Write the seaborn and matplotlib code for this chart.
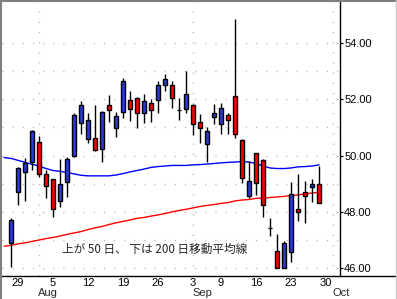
import numpy as np
import pandas as pd
import matplotlib
matplotlib.use('Agg')
import matplotlib.pyplot as plt
import seaborn as sns
from matplotlib.lines import Line2D
from matplotlib.transforms import blended_transform_factory

# trading days, 2013-07-25 .. 2013-10-01 (Labor Day closed)
days = pd.bdate_range('2013-07-25', '2013-10-01')
days = days[days != pd.Timestamp('2013-09-02')]

# daily candles from 2013-07-26 to 2013-09-27
opens = [46.88, 48.70, 49.41, 49.76, 50.49, 49.34, 49.16, 48.39, 49.05, 49.99,
         51.16, 50.60, 50.61, 50.22, 51.79, 50.99, 51.54, 51.96, 52.04, 51.50,
         51.86, 51.96, 52.50, 52.50, 51.63, 51.64, 51.79, 51.18, 50.40, 51.36,
         51.11, 51.43, 52.11, 50.55, 48.58, 50.08, 49.84, 47.44, 46.61, 46.02,
         46.59, 48.09, 48.69, 48.90, 48.99]
highs = [47.78, 49.58, 49.90, 50.91, 50.71, 49.49, 49.18, 49.87, 49.96, 51.50,
         51.93, 51.52, 51.80, 51.58, 52.16, 51.56, 52.75, 52.29, 52.09, 52.19,
         52.00, 52.65, 52.90, 52.66, 52.04, 53.01, 51.82, 51.48, 51.01, 51.82,
         51.86, 51.50, 54.85, 50.59, 49.81, 50.10, 49.88, 47.77, 47.21, 46.97,
         49.05, 49.34, 49.10, 49.17, 49.63]
lows = [46.04, 48.26, 48.40, 49.49, 49.25, 48.48, 47.81, 48.18, 48.54, 49.96,
        50.77, 50.44, 50.17, 49.78, 51.20, 50.67, 51.35, 51.24, 50.99, 51.17,
        51.20, 51.50, 52.31, 51.68, 51.26, 51.50, 50.73, 50.44, 49.78, 51.11,
        50.76, 50.76, 50.61, 49.04, 48.48, 48.59, 47.80, 47.15, 45.99, 46.00,
        46.20, 47.68, 47.62, 48.36, 48.30]
closes = [47.71, 49.55, 49.73, 50.87, 49.35, 48.91, 48.09, 48.98, 49.87, 51.44,
          51.79, 51.25, 50.20, 51.55, 51.63, 51.41, 52.65, 51.64, 51.50, 51.93,
          51.63, 52.50, 52.71, 52.04, 51.63, 52.18, 51.11, 50.97, 50.86, 51.50,
          51.68, 51.25, 50.78, 49.21, 49.09, 49.04, 48.25, 47.44, 46.02, 46.88,
          48.63, 47.99, 48.55, 48.99, 48.33]

# moving averages from 2013-07-25 to 2013-09-27
ma50 = [49.93, 49.90, 49.83, 49.76, 49.69, 49.63, 49.54, 49.47, 49.44, 49.40,
        49.35, 49.30, 49.28, 49.28, 49.28, 49.28, 49.31, 49.36, 49.42, 49.47,
        49.52, 49.58, 49.61, 49.63, 49.65, 49.65, 49.65, 49.67, 49.68, 49.70,
        49.72, 49.74, 49.76, 49.77, 49.79, 49.77, 49.72, 49.63, 49.56, 49.54,
        49.54, 49.56, 49.60, 49.61, 49.63, 49.67]
ma200 = [46.78, 46.81, 46.86, 46.90, 46.95, 47.00, 47.05, 47.09, 47.14, 47.20,
         47.25, 47.30, 47.37, 47.43, 47.48, 47.55, 47.61, 47.66, 47.71, 47.77,
         47.80, 47.85, 47.89, 47.94, 48.00, 48.05, 48.09, 48.14, 48.19, 48.23,
         48.26, 48.30, 48.33, 48.39, 48.42, 48.44, 48.48, 48.49, 48.51, 48.53,
         48.55, 48.58, 48.60, 48.64, 48.67, 48.70]

tick_days = ['2013-07-29', '2013-08-05', '2013-08-12', '2013-08-19', '2013-08-26',
             '2013-09-03', '2013-09-09', '2013-09-16', '2013-09-23', '2013-09-30']
month_days = ['2013-08-01', '2013-09-03', '2013-10-01']
month_names = ['Aug', 'Sep', 'Oct']
note = '上が 50 日、 下は 200 日移動平均線'

pos = {d: i - 1 for i, d in enumerate(days)}   # x = 0 on the first candle

sns.set_style('white')
plt.rcParams['font.family'] = ['Liberation Sans', 'DejaVu Sans']

W, H = 397, 299
fig = plt.figure(figsize=(W / 100, H / 100), dpi=100)
ax = fig.add_axes([2 / W, 23 / H, 338 / W, 274 / H])

# grid
dot = dict(color='#b4b4b4', lw=1, dashes=(0.8, 6.5))
for y in range(46, 55):
    ax.axhline(y, zorder=0, **dot)
for d in month_days:
    ax.axvline(pos[pd.Timestamp(d)], zorder=0, **dot)

# moving averages
ma = pd.DataFrame({'x': [pos[d] for d in days[:len(ma50)]], 'ma50': ma50, 'ma200': ma200})
sns.lineplot(data=ma, x='x', y='ma50', ax=ax, color='#0000ff', lw=1, zorder=1)
sns.lineplot(data=ma, x='x', y='ma200', ax=ax, color='#ff0000', lw=1, zorder=1)

# candles
o = np.array(opens)
c = np.array(closes)
x = np.arange(len(o))
cols = np.where(c > o, '#2b3bd1', np.where(c < o, '#ff0000', 'black'))
ax.vlines(x, lows, highs, color='black', lw=1, zorder=2)
ax.bar(x, np.abs(c - o), bottom=np.minimum(o, c), width=0.7, color=cols,
       edgecolor='black', linewidth=1, zorder=3)

ax.text(7.29, 46.65, note, family=['Noto Sans CJK JP', 'DejaVu Sans'],
        fontsize=8.4, va='center', ha='left')

ax.set_xlim(-1.29, 47.0)
ax.set_ylim(45.72, 55.46)
ax.set_xlabel('')
ax.set_ylabel('')

ax.yaxis.tick_right()
ax.set_yticks([46, 48, 50, 52, 54], [f'{v:.2f}' for v in [46, 48, 50, 52, 54]])
ax.tick_params(axis='y', length=2, pad=1, labelsize=8, colors='black', direction='out')
ax.set_xticks([pos[pd.Timestamp(d)] for d in tick_days],
              [str(pd.Timestamp(d).day) for d in tick_days])
ax.tick_params(axis='x', length=0, pad=1.5, labelsize=8, colors='black')

tr = blended_transform_factory(ax.transData, ax.transAxes)
for d, name in zip(month_days, month_names):
    ax.text(pos[pd.Timestamp(d)] - 0.1, -16.5 / 274, name, transform=tr, fontsize=8,
            ha='left', va='center', clip_on=False)

for s in ['left', 'top', 'bottom']:
    ax.spines[s].set_visible(False)
ax.spines['right'].set_color('black')
ax.spines['right'].set_linewidth(1)

# bottom axis line spans the whole picture, plus a sunken frame
fig.add_artist(Line2D([0, 1], [23 / H, 23 / H], color='black', lw=1))
fig.add_artist(Line2D([0, 1], [1 - 1 / H, 1 - 1 / H], color='#808080', lw=1.5))
fig.add_artist(Line2D([1 / W, 1 / W], [0, 1], color='#808080', lw=1.5))
fig.add_artist(Line2D([1 - 1.5 / W, 1 - 1.5 / W], [0, 1], color='#c8c8c8', lw=1))

fig.savefig('out.png', dpi=100)
